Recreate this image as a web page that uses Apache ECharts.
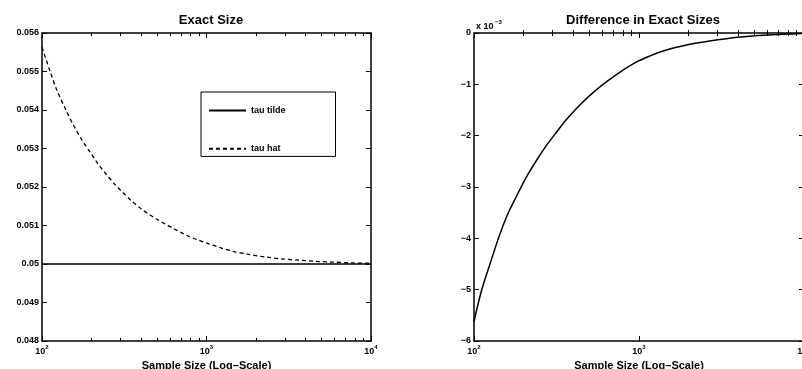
<!DOCTYPE html>
<html>
<head>
<meta charset="utf-8">
<script src="https://cdn.jsdelivr.net/npm/echarts@6/dist/echarts.min.js"></script>
<style>html,body{margin:0;padding:0;background:#fff;}#c{width:802px;height:369px;}</style>
</head>
<body>
<div id="c"></div>
<script>
// ---- data ----
const leftTitle = 'Exact Size';
const rightTitle = 'Difference in Exact Sizes';
const xName = 'Sample Size (Log\u2013Scale)';
const xMajorTicks = [100, 1000, 10000];
const xMinorTicks = [200,300,400,500,600,700,800,900,2000,3000,4000,5000,6000,7000,8000,9000];
const tildeN = [100, 10000];
const tauTilde = [0.05, 0.05];
const hatN = [100,112,123,138,155,175,195,220,246,278,311,350,393,440,496,560,625,700,789,880,996,1200,1446,1800,2296,2900,3656,4600,5820,7600,10000];
const tauHat = [0.05563,0.05500,0.05452,0.05405,0.05361,0.05322,0.05292,0.05259,0.05233,0.05206,0.05185,0.05164,0.05146,0.05131,0.05117,0.05104,0.05093,0.05082,0.05071,0.05063,0.05055,0.05043,0.05033,0.05025,0.05018,0.05013,0.05010,0.05007,0.05005,0.05003,0.05002];
const diffN = [100,111,125,142,160,181,210,245,275,310,360,429,510,608,760,968,1180,1402,1800,2240,2800,3540,4500,5630,7500,10000];
const diffVals = [-5.62,-5.02,-4.5,-3.96,-3.53,-3.18,-2.78,-2.43,-2.19,-1.97,-1.70,-1.43,-1.2,-0.995,-0.77,-0.563,-0.44,-0.35,-0.26,-0.196,-0.145,-0.10,-0.068,-0.046,-0.025,-0.01]; // x 10^-3
const leftY = {min: 0.048, max: 0.056, interval: 0.001};
const rightY = {min: -6, max: 0, interval: 1};

const FONT = '"Liberation Sans", Arial, Helvetica, sans-serif';

function zip(a, b) { return a.map((v, i) => [v, b[i]]); }

function xAxes(gi) {
  const base = {type: 'log', logBase: 10, min: 100, max: 10000, gridIndex: gi,
    splitLine: {show: false}, axisPointer: {show: false}};
  const line = {show: true, onZero: false, lineStyle: {color: '#000', width: 1.5}};
  return [
    Object.assign({}, base, {position: 'bottom', axisLine: line,
      axisTick: {show: true, inside: true, length: 5, customValues: xMajorTicks, lineStyle: {color: '#000', width: 1}},
      axisLabel: {show: true, customValues: xMajorTicks, margin: 3, hideOverlap: false,
        formatter: v => '{b|10}{s|' + Math.round(Math.log10(v)) + '}',
        rich: {b: {fontFamily: FONT, fontWeight: 'bold', fontSize: 9, color: '#000', lineHeight: 12, verticalAlign: 'bottom'},
               s: {fontFamily: FONT, fontWeight: 'bold', fontSize: 6, color: '#000', lineHeight: 12, verticalAlign: 'top', padding: [0,0,4,0]}}},
      name: xName, nameLocation: 'middle', nameGap: 16,
      nameTextStyle: {fontFamily: FONT, fontWeight: 'bold', fontSize: 11, color: '#000'}}),
    Object.assign({}, base, {position: 'bottom', axisLine: {show: false},
      axisTick: {show: true, inside: true, length: 3, customValues: xMinorTicks, lineStyle: {color: '#000', width: 1}},
      axisLabel: {show: false}}),
    Object.assign({}, base, {position: 'top', axisLine: line,
      axisTick: {show: true, inside: true, length: 5, customValues: xMajorTicks, lineStyle: {color: '#000', width: 1}},
      axisLabel: {show: false}}),
    Object.assign({}, base, {position: 'top', axisLine: {show: false},
      axisTick: {show: true, inside: true, length: 3, customValues: xMinorTicks, lineStyle: {color: '#000', width: 1}},
      axisLabel: {show: false}})
  ];
}
function yAxes(gi, cfg, fmt) {
  const base = {type: 'value', gridIndex: gi, min: cfg.min, max: cfg.max, interval: cfg.interval,
    splitLine: {show: false}, axisPointer: {show: false}};
  const line = {show: true, onZero: false, lineStyle: {color: '#000', width: 1.5}};
  return [
    Object.assign({}, base, {position: 'left', axisLine: line,
      axisTick: {show: true, inside: true, length: 5, lineStyle: {color: '#000', width: 1}},
      axisLabel: {show: true, margin: 3, formatter: fmt, hideOverlap: false,
        fontFamily: FONT, fontWeight: 'bold', fontSize: 9, color: '#000'}}),
    Object.assign({}, base, {position: 'right', axisLine: line,
      axisTick: {show: true, inside: true, length: 5, lineStyle: {color: '#000', width: 1}},
      axisLabel: {show: false}})
  ];
}

const chart = echarts.init(document.getElementById('c'), null, {renderer: 'canvas'});
chart.setOption({
  animation: false,
  backgroundColor: '#fff',
  title: [
    {text: leftTitle, left: 206, top: 9, textAlign: 'center',
     textStyle: {fontFamily: FONT, fontWeight: 'bold', fontSize: 13, color: '#000'}},
    {text: rightTitle, left: 638, top: 9, textAlign: 'center',
     textStyle: {fontFamily: FONT, fontWeight: 'bold', fontSize: 13, color: '#000'}}
  ],
  grid: [
    {left: 42, top: 33, width: 329, height: 308, outerBoundsMode: 'none', containLabel: false},
    {left: 474, top: 33, width: 330, height: 308, outerBoundsMode: 'none', containLabel: false}
  ],
  xAxis: xAxes(0).concat(xAxes(1)),
  yAxis: yAxes(0, leftY, v => String(parseFloat(v.toFixed(3))))
    .concat(yAxes(1, rightY, v => v === 0 ? '0' : '\u2212' + Math.abs(Math.round(v)))),
  legend: {
    show: true, left: 201, top: 92, orient: 'vertical',
    data: ['tau tilde', 'tau hat'],
    itemWidth: 37, itemHeight: 14, itemGap: 27,
    padding: [13, 50, 2, 7],
    borderColor: '#000', borderWidth: 1, backgroundColor: '#fff',
    itemStyle: {opacity: 0},
    textStyle: {fontFamily: FONT, fontWeight: 'bold', fontSize: 9, color: '#000'},
    selectedMode: false
  },
  graphic: [
    {type: 'text', left: 476, top: 22,
     style: {text: 'x 10', font: 'bold 9px ' + FONT, fill: '#000'}},
    {type: 'text', left: 495, top: 19,
     style: {text: '\u22123', font: 'bold 6px ' + FONT, fill: '#000'}}
  ],
  series: [
    {name: 'tau tilde', type: 'line', xAxisIndex: 0, yAxisIndex: 0, data: zip(tildeN, tauTilde),
     symbol: 'none', showSymbol: false, lineStyle: {color: '#000', width: 1.3}, itemStyle: {color: '#000'}},
    {name: 'tau hat', type: 'line', xAxisIndex: 0, yAxisIndex: 0, data: zip(hatN, tauHat),
     symbol: 'none', showSymbol: false, smooth: 0.3,
     lineStyle: {color: '#000', width: 1.3, type: [4, 3]}, itemStyle: {color: '#000'}},
    {name: 'difference', type: 'line', xAxisIndex: 4, yAxisIndex: 2, data: zip(diffN, diffVals),
     symbol: 'none', showSymbol: false, smooth: 0.3,
     lineStyle: {color: '#000', width: 1.5}, itemStyle: {color: '#000'}}
  ]
});
</script>
</body>
</html>
